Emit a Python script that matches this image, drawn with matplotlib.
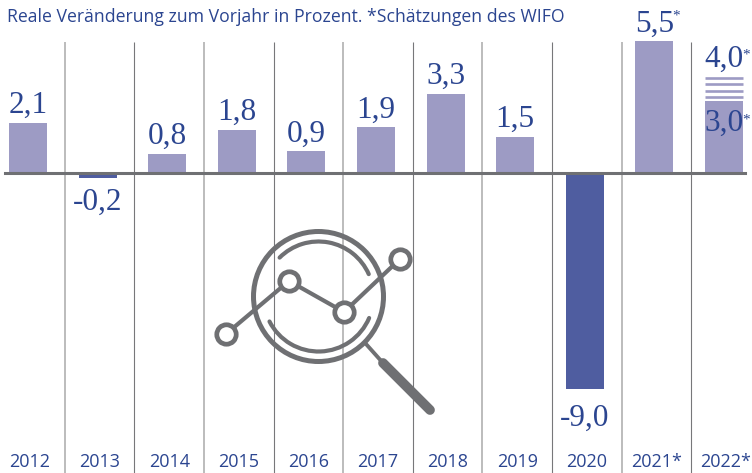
import numpy as np
import matplotlib
matplotlib.use('Agg')
import matplotlib.pyplot as plt
from matplotlib.patches import Circle, Arc

years = ['2012', '2013', '2014', '2015', '2016', '2017', '2018', '2019', '2020', '2021*', '2022*']
values = [2.1, -0.2, 0.8, 1.8, 0.9, 1.9, 3.3, 1.5, -9.0, 5.5, 3.0]
value_labels = ['2,1', '-0,2', '0,8', '1,8', '0,9', '1,9', '3,3', '1,5', '-9,0', '5,5', '3,0']
forecast_high = 4.0
forecast_stripes = [3.17, 3.42, 3.71, 3.96]
subtitle = 'Reale Veränderung zum Vorjahr in Prozent. *Schätzungen des WIFO'

BLUE = '#2b4590'
LIGHT = '#9d9bc4'
DARK = '#4f5da0'
GREY = '#6f7073'

W, H = 752, 473
fig = plt.figure(figsize=(W / 100, H / 100), dpi=100)
ax = fig.add_axes([0, 0, 1, 1])
# x: eine Einheit = 69.6 px, erster Balken bei px 28 / y: 24 px pro Prozentpunkt, Null bei px 173
ax.set_xlim(-28 / 69.6, (W - 28) / 69.6)
ax.set_ylim(-(H - 173) / 24, 173 / 24)
ax.axis('off')

x = np.arange(len(values))
colors = [DARK if v < 0 else LIGHT for v in values]
ax.bar(x, values, width=38 / 69.6, color=colors, zorder=2)

# Trennlinien, abwechselnd hell und dunkel
for i in x[:-1]:
    light = i % 2 == 0
    ax.plot([i + 0.53, i + 0.53], [5.46, ax.get_ylim()[0]], color='#b0b0b0' if light else '#77777a',
            lw=1.2 if light else 0.8, zorder=1, solid_capstyle='butt')

ax.axhline(0, xmin=5 / W, xmax=745 / W, color=GREY, lw=2.2, zorder=3)

# Schätzbereich 2022
ax.hlines(forecast_stripes, x[-1] - 19 / 69.6, x[-1] + 19 / 69.6, color=LIGHT, lw=1.9, zorder=2)

# Werte
for i, v, lab in zip(x, values, value_labels):
    top = v + 10 / 24 if v > 0 else v - 32 / 24
    if i == len(x) - 1:
        top = v - 30 / 24
    if i == 8:
        top = v - 37 / 24
    if i == 9:
        top = v + 9 / 24
    ax.text(i, top, lab, family='Liberation Serif', fontsize=22.5, color=BLUE, ha='center', va='baseline', zorder=4)
ax.text(x[-1], forecast_high + 10 / 24, '4,0', family='Liberation Serif', fontsize=22.5, color=BLUE, ha='center', va='baseline', zorder=4)

# Sternchen bei den Schätzungen
for i, y, offset in [(9, 5.5, 31 / 24), (10, 4.0, 28 / 24), (10, 3.0, -13 / 24)]:
    ax.annotate('*', (i, y + offset), xytext=(22, -6), textcoords='offset pixels', family='Liberation Serif',
                fontsize=11, color=BLUE, ha='center', va='center', zorder=4)

# Jahreszahlen
for i, year in zip(x, years):
    ax.annotate(year, (i, ax.get_ylim()[0]), xytext=(2, 6), textcoords='offset pixels', family='Open Sans',
                fontsize=13, color=BLUE, ha='center', va='baseline')

fig.text(7 / W, 1 - 22 / H, subtitle, family='Open Sans', fontsize=12.7, color=BLUE, ha='left', va='baseline')

# Lupen-Symbol, in Pixelkoordinaten
icon = fig.add_axes([0, 0, 1, 1])
icon.set_xlim(0, W)
icon.set_ylim(H, 0)
icon.axis('off')
icon.patch.set_alpha(0)

cx, cy = 318.5, 296.5
icon.add_patch(Circle((cx, cy), 65, fill=False, ec=GREY, lw=3.6))
icon.add_patch(Arc((cx, cy), 110, 110, theta1=225, theta2=336, ec=GREY, lw=3, capstyle='round'))
icon.add_patch(Arc((cx, cy), 110, 110, theta1=23, theta2=153, ec=GREY, lw=3, capstyle='round'))
nx = [226, 289, 344, 400]
ny = [334, 281, 312, 259]
icon.plot(nx, ny, color=GREY, lw=3, marker='o', ms=14, mfc='white', mec=GREY, mew=3.4)
icon.plot([366, 383], [344, 363], color=GREY, lw=2.8)
icon.plot([383, 430], [363, 410], color=GREY, lw=7, solid_capstyle='round')

fig.savefig('out.png', dpi=100)
